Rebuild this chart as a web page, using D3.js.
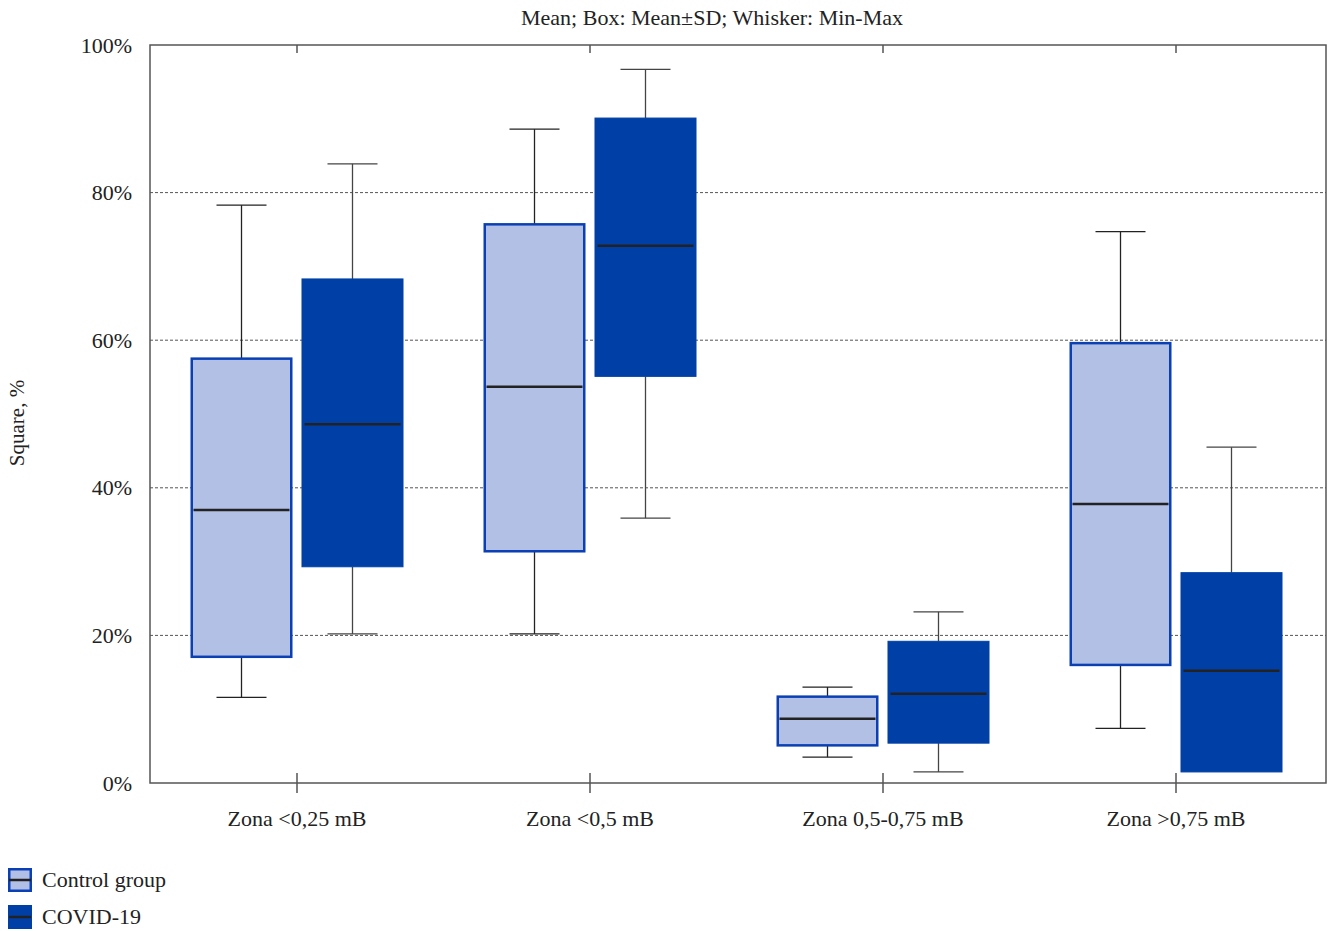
<!DOCTYPE html>
<html><head><meta charset="utf-8">
<script src="https://cdn.jsdelivr.net/npm/d3@7"></script>
<style>body{margin:0;background:#fff}svg{display:block;font-family:"Liberation Serif","Times New Roman",serif}</style>
</head><body><svg id="c" width="1330" height="931"></svg>
<script>
const categories = ["Zona <0,25 mB","Zona <0,5 mB","Zona 0,5-0,75 mB","Zona >0,75 mB"];
const seriesNames = ["Control group","COVID-19"];
// values in % : min, mean-SD, mean, mean+SD, max
const controlMin  = [11.6, 20.2, 3.5, 7.4];
const controlLow  = [17.1, 31.4, 5.1, 16.0];
const controlMean = [37.0, 53.7, 8.7, 37.8];
const controlHigh = [57.5, 75.7, 11.7, 59.6];
const controlMax  = [78.3, 88.6, 13.0, 74.7];
const covidMin    = [20.2, 35.9, 1.5, 1.5];
const covidLow    = [29.3, 55.1, 5.4, 1.5];
const covidMean   = [48.6, 72.8, 12.1, 15.2];
const covidHigh   = [68.3, 90.1, 19.2, 28.5];
const covidMax    = [83.9, 96.7, 23.2, 45.5];
const yTicks = [0,20,40,60,80,100];

const svg = d3.select("#c");
const L=150, R=1326, T=45, B=783;
const x = d3.scaleBand().domain(categories).range([150.5,1322.5]).padding(0);
const y = d3.scaleLinear().domain([0,100]).range([B,T]);
const sub = d3.scaleBand().domain(seriesNames).range([-106.5,106.5]).paddingInner(0.081);

// grid
svg.append("g").selectAll("line").data(yTicks.filter(d=>d>0&&d<100)).join("line")
  .attr("x1",L).attr("x2",R).attr("y1",d=>y(d)).attr("y2",d=>y(d))
  .attr("stroke","#555").attr("stroke-width",1).attr("stroke-dasharray","3,2");

const data = [];
categories.forEach((c,i)=>{
  data.push({c, s:seriesNames[0], min:controlMin[i], lo:controlLow[i], m:controlMean[i], hi:controlHigh[i], max:controlMax[i]});
  data.push({c, s:seriesNames[1], min:covidMin[i], lo:covidLow[i], m:covidMean[i], hi:covidHigh[i], max:covidMax[i]});
});
const fill = {"Control group":"#b3c0e6","COVID-19":"#0040a6"};
const stroke = {"Control group":"#0a40b4","COVID-19":"#0040a6"};
const bw = sub.bandwidth();
const g = svg.append("g");
data.forEach(d=>{
  const cx = x(d.c)+x.bandwidth()/2 + sub(d.s) + bw/2;
  const wc = d.s==="Control group" ? "#222" : "#444";
  g.append("line").attr("x1",cx).attr("x2",cx).attr("y1",y(d.max)).attr("y2",y(d.hi)).attr("stroke",wc).attr("stroke-width",1.3);
  g.append("line").attr("x1",cx).attr("x2",cx).attr("y1",y(d.lo)).attr("y2",y(d.min)).attr("stroke",wc).attr("stroke-width",1.3);
  g.append("line").attr("x1",cx-25).attr("x2",cx+25).attr("y1",y(d.max)).attr("y2",y(d.max)).attr("stroke",wc).attr("stroke-width",1.3);
  if (d.min < d.lo) g.append("line").attr("x1",cx-25).attr("x2",cx+25).attr("y1",y(d.min)).attr("y2",y(d.min)).attr("stroke",wc).attr("stroke-width",1.3);
  const sw = d.s==="Control group" ? 2.5 : 1;
  g.append("rect").attr("x",cx-bw/2+sw/2).attr("width",bw-sw).attr("y",y(d.hi)).attr("height",y(d.lo)-y(d.hi))
    .attr("fill",fill[d.s]).attr("stroke",stroke[d.s]).attr("stroke-width",sw);
  g.append("line").attr("x1",cx-bw/2+3).attr("x2",cx+bw/2-3).attr("y1",y(d.m)).attr("y2",y(d.m)).attr("stroke","#222").attr("stroke-width",2.5);
});

// frame
svg.append("rect").attr("x",L).attr("y",T).attr("width",R-L).attr("height",B-T).attr("fill","none").attr("stroke","#555").attr("stroke-width",1.5);

// y axis
const ya = svg.append("g").attr("transform",`translate(${L},0)`)
  .call(d3.axisLeft(y).tickValues(yTicks).tickSize(0).tickPadding(18).tickFormat(d=>d+"%"));
ya.select(".domain").remove();
ya.selectAll("text").attr("font-size",22).attr("font-family","Liberation Serif").attr("fill","#222").attr("dy","0.32em");

// x axis
const xa = svg.append("g").attr("transform",`translate(0,${B})`)
  .call(d3.axisBottom(x).tickSize(10).tickPadding(17));
xa.select(".domain").remove();
xa.selectAll(".tick line").attr("y1",-10).attr("y2",10).attr("stroke","#555").attr("stroke-width",1.5);
xa.selectAll("text").attr("font-size",22).attr("font-family","Liberation Serif").attr("fill","#222");
// top mirrored ticks
svg.append("g").selectAll("line").data(categories).join("line")
  .attr("x1",d=>x(d)+x.bandwidth()/2).attr("x2",d=>x(d)+x.bandwidth()/2).attr("y1",T).attr("y2",T+8)
  .attr("stroke","#555").attr("stroke-width",1.5);

// title
svg.append("text").attr("x",712).attr("y",25).attr("text-anchor","middle").attr("font-size",22).attr("fill","#222")
  .text("Mean; Box: Mean±SD; Whisker: Min-Max");
// y label
svg.append("text").attr("transform","translate(24,423) rotate(-90)").attr("text-anchor","middle").attr("font-size",21).attr("fill","#222")
  .text("Square, %");

// legend
const lg = svg.append("g");
seriesNames.forEach((s,i)=>{
  const yy = 868 + i*37;
  const sw = i===0?2.5:1;
  lg.append("rect").attr("x",8+sw/2).attr("y",yy+sw/2).attr("width",24-sw).attr("height",24-sw).attr("fill",fill[s]).attr("stroke",stroke[s]).attr("stroke-width",sw);
  lg.append("line").attr("x1",9).attr("x2",31).attr("y1",yy+12).attr("y2",yy+12).attr("stroke","#222").attr("stroke-width",2.5);
  lg.append("text").attr("x",42).attr("y",yy+19).attr("font-size",22).attr("fill","#222").text(s);
});
</script></body></html>
